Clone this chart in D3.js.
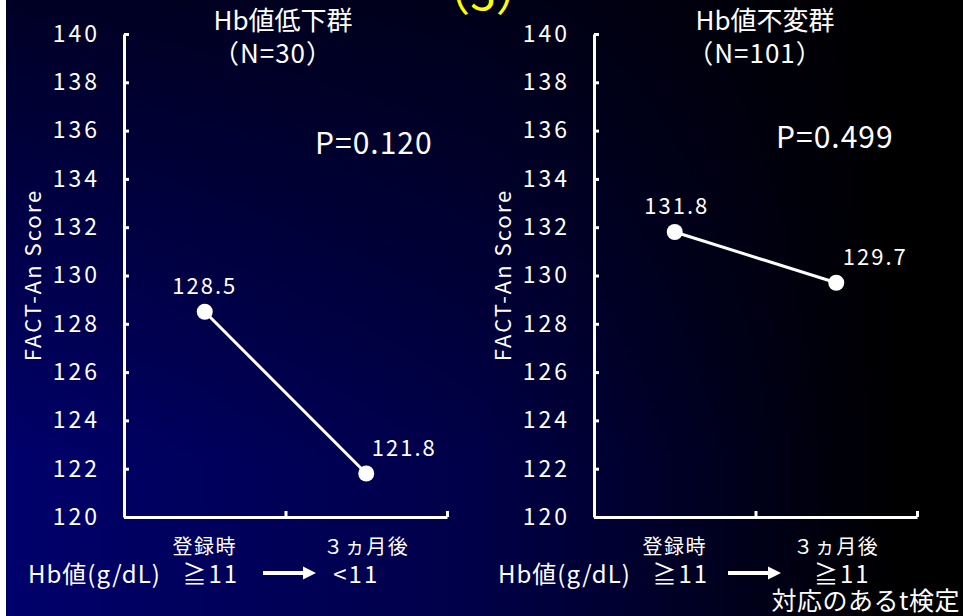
<!DOCTYPE html>
<html>
<head>
<meta charset="utf-8">
<script src="https://cdn.jsdelivr.net/npm/d3@7"></script>
<style>
  body { margin: 0; background: #fff; }
  svg { display: block; }
  text { font-family: "Noto Sans CJK JP", "Noto Sans", sans-serif; fill: #fff; }
</style>
</head>
<body>
<div id="canvas"></div>
<script>
"use strict";

// Data
let groupNames = ["Hb値低下群", "Hb値不変群"];
let groupN = ["（N=30）", "（N=101）"];
let pValues = ["P=0.120", "P=0.499"];
let timepoints = ["登録時", "３ヵ月後"];
let scoresLow = [128.5, 121.8];     // Hb値低下群
let scoresStable = [131.8, 129.7];  // Hb値不変群
let hbBefore = ["≧11", "≧11"];
let hbAfter = ["<11", "≧11"];
let yTicks = [120, 122, 124, 126, 128, 130, 132, 134, 136, 138, 140];

// Canvas
let svgWidth = 963;
let svgHeight = 616;
let plotWidth = 323;
let plotTop = 34;
let plotBottom = 517;

let svg = d3.select("#canvas")
  .append("svg")
  .attr("width", svgWidth)
  .attr("height", svgHeight);

// Background gradient (blue on the left, black on the right, darker at top)
let defs = svg.append("defs");
let bgGrad = defs.append("linearGradient").attr("id", "bgGrad")
  .attr("x1", 0).attr("y1", 0).attr("x2", 1).attr("y2", 0);
bgGrad.append("stop").attr("offset", 0).attr("stop-color", "#00006c");
bgGrad.append("stop").attr("offset", 0.5).attr("stop-color", "#000048");
bgGrad.append("stop").attr("offset", 0.78).attr("stop-color", "#00001a");
bgGrad.append("stop").attr("offset", 0.93).attr("stop-color", "#000000");
let topShade = defs.append("linearGradient").attr("id", "topShade")
  .attr("x1", 0).attr("y1", 0).attr("x2", 0).attr("y2", 1);
topShade.append("stop").attr("offset", 0).attr("stop-color", "#000").attr("stop-opacity", 0.65);
topShade.append("stop").attr("offset", 0.75).attr("stop-color", "#000").attr("stop-opacity", 0);

svg.append("rect").attr("width", svgWidth).attr("height", svgHeight).attr("fill", "url(#bgGrad)");
svg.append("rect").attr("width", svgWidth).attr("height", svgHeight).attr("fill", "url(#topShade)");
svg.append("rect").attr("width", 6).attr("height", svgHeight).attr("fill", "#fff"); // white strip at left edge

// Slide number, cut off at the top
svg.append("text")
  .attr("x", 483).attr("y", 10)
  .attr("text-anchor", "middle")
  .style("font-size", "46px")
  .style("fill", "#ffff00")
  .text("（3）");

// Arrow marker
defs.append("marker").attr("id", "arrowHead")
  .attr("viewBox", "0 0 10 10").attr("refX", 1).attr("refY", 5)
  .attr("markerWidth", 3.4).attr("markerHeight", 3.4)
  .attr("orient", "auto")
  .append("path").attr("d", "M0,0 L10,5 L0,10 Z").attr("fill", "#fff");

// Scales
let yScale = d3.scaleLinear().domain([120, 140]).range([plotBottom, plotTop]);
let xBand = d3.scaleBand().domain(timepoints).range([0, plotWidth]);
let xEdge = d3.scaleLinear().domain([0, timepoints.length]).range([0, plotWidth]);

let panels = [
  { x0: 124, scores: scoresLow, titleX: 159, pX: 191, pY: 154, labelDx: [0, 38] },
  { x0: 594, scores: scoresStable, titleX: 171, pX: 182, pY: 148, labelDx: [2, 39] }
];

function drawPanel(p, i) {
  let g = svg.append("g").attr("transform", "translate(" + p.x0 + ",0)");

  // Y axis, ticks pointing inward
  let yAxis = g.append("g")
    .call(d3.axisLeft(yScale).tickValues(yTicks).tickSizeInner(-5).tickSizeOuter(0).tickPadding(24));
  yAxis.select(".domain").attr("stroke", "#fff").attr("stroke-width", 3);
  yAxis.selectAll(".tick line").attr("stroke", "#fff").attr("stroke-width", 3);
  yAxis.selectAll(".tick text")
    .style("font-size", "23px")
    .style("letter-spacing", "3px")
    .attr("fill", "#fff");

  // X axis, ticks pointing up at category edges
  let xAxis = g.append("g")
    .attr("transform", "translate(0," + plotBottom + ")")
    .call(d3.axisBottom(xEdge).tickValues([1, 2]).tickFormat("").tickSizeInner(-6).tickSizeOuter(0));
  xAxis.select(".domain").attr("stroke", "#fff").attr("stroke-width", 3);
  xAxis.selectAll(".tick line").attr("stroke", "#fff").attr("stroke-width", 3);

  // Y-axis title
  g.append("text")
    .attr("transform", "translate(" + (-83) + "," + 275 + ") rotate(-90)")
    .attr("text-anchor", "middle")
    .style("font-size", "22px")
    .style("letter-spacing", "2px")
    .text("FACT-An Score");

  // Group title
  g.append("text")
    .attr("x", p.titleX).attr("y", 30)
    .attr("text-anchor", "middle")
    .style("font-size", "26px")
    .text(groupNames[i]);
  g.append("text")
    .attr("x", p.titleX - 10).attr("y", 63)
    .attr("text-anchor", "middle")
    .style("font-size", "26px")
    .style("letter-spacing", "1px")
    .text(groupN[i]);

  // P value
  g.append("text")
    .attr("x", p.pX).attr("y", p.pY)
    .style("font-size", "30px")
    .style("letter-spacing", "1px")
    .text(pValues[i]);

  // Line + points
  let pts = timepoints.map(function(t, k) { return { t: t, v: p.scores[k], k: k }; });
  let line = d3.line()
    .x(function(d) { return xBand(d.t) + xBand.bandwidth() / 2; })
    .y(function(d) { return yScale(d.v); });
  g.append("path").datum(pts)
    .attr("d", line)
    .attr("fill", "none")
    .attr("stroke", "#fff")
    .attr("stroke-width", 3);
  g.selectAll("circle.pt").data(pts).enter()
    .append("circle")
    .attr("class", "pt")
    .attr("cx", function(d) { return xBand(d.t) + xBand.bandwidth() / 2; })
    .attr("cy", function(d) { return yScale(d.v); })
    .attr("r", 8)
    .attr("fill", "#fff");
  g.selectAll("text.val").data(pts).enter()
    .append("text")
    .attr("class", "val")
    .attr("x", function(d) { return xBand(d.t) + xBand.bandwidth() / 2 + p.labelDx[d.k]; })
    .attr("y", function(d) { return yScale(d.v) - 18; })
    .attr("text-anchor", "middle")
    .style("font-size", "22px")
    .style("letter-spacing", "2px")
    .text(function(d) { return d.v.toFixed(1); });

  // Timepoint labels under axis
  g.selectAll("text.tp").data(timepoints).enter()
    .append("text")
    .attr("class", "tp")
    .attr("x", function(d) { return xBand(d) + xBand.bandwidth() / 2; })
    .attr("y", 554)
    .attr("text-anchor", "middle")
    .style("font-size", "20px")
    .style("letter-spacing", "1.5px")
    .text(function(d) { return d; });

  // Hb row
  g.append("text")
    .attr("x", -96).attr("y", 583)
    .style("font-size", "24px")
    .style("letter-spacing", "1px")
    .text("Hb値(g/dL)");
  g.append("text")
    .attr("x", xBand(timepoints[0]) + xBand.bandwidth() / 2 + 6).attr("y", 583)
    .attr("text-anchor", "middle")
    .style("font-size", "24px")
    .style("letter-spacing", "2px")
    .text(hbBefore[i]);
  g.append("text")
    .attr("x", xBand(timepoints[1]) + xBand.bandwidth() / 2 + (i == 0 ? -10 : 6)).attr("y", 583)
    .attr("text-anchor", "middle")
    .style("font-size", "24px")
    .style("letter-spacing", "2px")
    .text(hbAfter[i]);
  g.append("line")
    .attr("x1", 139 - (i == 0 ? 0 : 5)).attr("x2", 180 - (i == 0 ? 0 : 5))
    .attr("y1", 573).attr("y2", 573)
    .attr("stroke", "#fff")
    .attr("stroke-width", 4)
    .attr("marker-end", "url(#arrowHead)");
}

panels.forEach(drawPanel);

// Footnote
svg.append("text")
  .attr("x", 960).attr("y", 610)
  .attr("text-anchor", "end")
  .style("font-size", "25px")
  .style("letter-spacing", "0.5px")
  .text("対応のあるt検定");
</script>
</body>
</html>
